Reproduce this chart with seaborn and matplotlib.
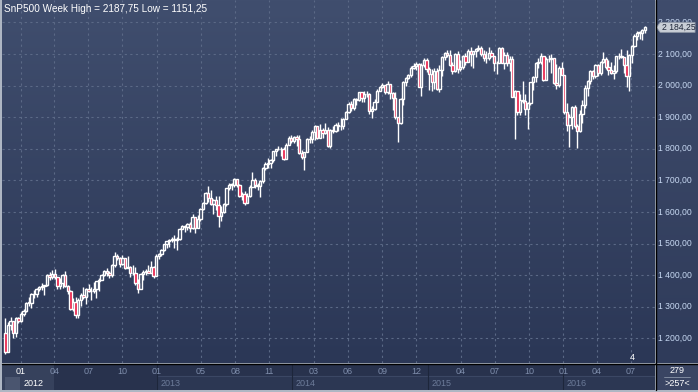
import numpy as np
import pandas as pd
import seaborn as sns
import matplotlib.pyplot as plt
from matplotlib.colors import LinearSegmentedColormap
from matplotlib.patches import Polygon, Rectangle

# weekly bars of the SnP500 future, first bar = week of 2011-11-21
start = "2011-11-21"
first_open = 1216

close_2011 = [1158, 1243, 1254, 1218, 1263, 1255]
high_2011 = [1265, 1253, 1266, 1255, 1266, 1268]
low_2011 = [1151.25, 1156, 1225, 1202, 1204, 1247]

close_2012 = [1276, 1287, 1313, 1313, 1341, 1339, 1357, 1362, 1366, 1368, 1400, 1393, 1404,
              1395, 1367, 1375, 1400, 1365, 1350, 1293, 1314, 1274, 1321, 1338, 1330, 1355,
              1349, 1351, 1357, 1380, 1385, 1401, 1413, 1406, 1401, 1433, 1461, 1455, 1434,
              1454, 1422, 1427, 1406, 1408, 1374, 1355, 1405, 1411, 1413, 1408, 1426, 1398, 1462]
high_2012 = [1283, 1294, 1316, 1330, 1343, 1352, 1360, 1366, 1375, 1370, 1404, 1409, 1416,
             1420, 1395, 1392, 1402, 1412, 1370, 1353, 1326, 1332, 1329, 1342, 1362, 1359,
             1373, 1362, 1378, 1382, 1392, 1404, 1415, 1423, 1412, 1435, 1472, 1466, 1458,
             1464, 1455, 1461, 1430, 1431, 1425, 1388, 1406, 1415, 1418, 1433, 1445, 1430, 1466]
low_2012 = [1252, 1271, 1284, 1302, 1296, 1326, 1331, 1351, 1354, 1337, 1366, 1384, 1389,
            1389, 1355, 1355, 1360, 1362, 1340, 1290, 1285, 1265, 1263, 1303, 1323, 1307,
            1345, 1322, 1344, 1327, 1351, 1384, 1398, 1397, 1392, 1395, 1427, 1447, 1427,
            1433, 1418, 1422, 1395, 1401, 1368, 1343, 1355, 1383, 1400, 1407, 1413, 1391, 1396]

close_2013 = [1467, 1480, 1497, 1507, 1512, 1514, 1510, 1514, 1546, 1555, 1552, 1563, 1548,
              1583, 1550, 1577, 1608, 1627, 1661, 1645, 1625, 1638, 1621, 1588, 1601, 1626,
              1675, 1686, 1686, 1703, 1684, 1650, 1656, 1628, 1650, 1680, 1702, 1684, 1683,
              1697, 1738, 1753, 1756, 1764, 1792, 1798, 1799, 1800, 1768, 1812, 1835, 1824]
high_2013 = [1470, 1482, 1500, 1509, 1513, 1520, 1527, 1522, 1550, 1560, 1558, 1565, 1568,
             1593, 1585, 1590, 1614, 1630, 1663, 1683, 1668, 1640, 1649, 1651, 1619, 1629,
             1677, 1692, 1693, 1706, 1705, 1690, 1662, 1666, 1659, 1685, 1726, 1706, 1693,
             1701, 1743, 1757, 1770, 1767, 1793, 1800, 1808, 1806, 1807, 1817, 1839, 1845]
low_2013 = [1450, 1460, 1477, 1487, 1490, 1505, 1487, 1481, 1510, 1546, 1535, 1543, 1535,
            1545, 1534, 1550, 1570, 1607, 1624, 1630, 1623, 1593, 1605, 1553, 1570, 1596,
            1620, 1668, 1671, 1678, 1680, 1648, 1637, 1623, 1627, 1648, 1683, 1675, 1670,
            1646, 1692, 1733, 1738, 1738, 1757, 1778, 1795, 1777, 1765, 1766, 1812, 1819]

close_2014 = [1836, 1832, 1785, 1775, 1790, 1832, 1830, 1853, 1871, 1834, 1860, 1851, 1858,
              1808, 1858, 1856, 1874, 1872, 1871, 1894, 1917, 1943, 1929, 1956, 1954, 1979,
              1961, 1972, 1972, 1919, 1925, 1949, 1982, 1997, 2001, 1979, 2004, 1976, 1962,
              1900, 1882, 1958, 2012, 2025, 2033, 2057, 2061, 2069, 1996, 2064, 2081, 2052]
high_2014 = [1840, 1844, 1843, 1795, 1790, 1833, 1840, 1858, 1876, 1871, 1877, 1867, 1882,
             1868, 1861, 1872, 1882, 1886, 1897, 1896, 1919, 1947, 1951, 1960, 1961, 1981,
             1977, 1982, 1984, 1977, 1936, 1957, 1990, 2000, 2007, 2002, 2013, 2004, 1981,
             1979, 1901, 1961, 2015, 2027, 2038, 2062, 2070, 2076, 2071, 2071, 2088, 2086]
low_2014 = [1817, 1808, 1783, 1767, 1733, 1789, 1818, 1818, 1828, 1832, 1834, 1834, 1848,
            1806, 1803, 1850, 1852, 1856, 1859, 1864, 1895, 1913, 1921, 1924, 1937, 1950,
            1948, 1948, 1964, 1911, 1898, 1922, 1947, 1984, 1992, 1973, 1973, 1958, 1924,
            1895, 1820, 1877, 1940, 2000, 2022, 2027, 2053, 2049, 1994, 1966, 2060, 2042]

close_2015 = [2038, 2012, 2046, 1988, 2048, 2091, 2103, 2097, 2064, 2046, 2101, 2054, 2060,
              2095, 2074, 2111, 2101, 2109, 2116, 2119, 2100, 2086, 2087, 2102, 2094, 2070,
              2070, 2120, 2073, 2097, 2070, 2084, 1965, 1983, 1916, 1955, 1952, 1925, 1944,
              2010, 2028, 2070, 2074, 2093, 2018, 2083, 2084, 2086, 2007, 2001, 2056, 2035]
high_2015 = [2059, 2052, 2057, 2055, 2064, 2094, 2106, 2114, 2113, 2076, 2104, 2111, 2082,
             2098, 2102, 2115, 2121, 2111, 2119, 2129, 2124, 2113, 2110, 2121, 2114, 2088,
             2078, 2123, 2122, 2106, 2107, 2095, 2095, 1985, 1978, 1974, 2013, 1974, 1949,
             2012, 2031, 2074, 2087, 2103, 2092, 2091, 2096, 2101, 2087, 2069, 2061, 2075]
low_2015 = [1985, 1984, 1988, 1986, 1980, 2031, 2080, 2092, 2061, 2036, 2044, 2040, 2045,
            2052, 2064, 2075, 2062, 2057, 2090, 2110, 2095, 2078, 2072, 2080, 2090, 2047,
            2038, 2070, 2071, 2052, 2062, 2045, 1964, 1831, 1907, 1908, 1945, 1908, 1864,
            1940, 1985, 2012, 2055, 2068, 2016, 2018, 2074, 2040, 2005, 1988, 1997, 2033]

close_2016 = [1916, 1874, 1899, 1932, 1872, 1857, 1909, 1940, 1993, 2015, 2045, 2030, 2066,
              2041, 2074, 2084, 2058, 2050, 2040, 2046, 2093, 2094, 2090, 2065, 2031, 2096,
              2124, 2156, 2168, 2167, 2177, 2184.25]
high_2016 = [2034, 1945, 1910, 1934, 1939, 1878, 1922, 1955, 2002, 2018, 2049, 2049, 2067,
             2069, 2077, 2105, 2092, 2080, 2075, 2064, 2095, 2103, 2116, 2092, 2112, 2100,
             2127, 2162, 2172, 2172, 2179, 2187.75]
low_2016 = [1911, 1856, 1804, 1862, 1866, 1802, 1854, 1883, 1928, 1967, 2006, 2020, 2025,
            2030, 2032, 2072, 2051, 2033, 2037, 2022, 2040, 2083, 2088, 2040, 1995, 1984,
            2072, 2122, 2145, 2148, 2145, 2166]

price_levels = [1200, 1300, 1400, 1500, 1600, 1700, 1800, 1900, 2000, 2100, 2200]
month_ticks = ["2012-01", "2012-04", "2012-07", "2012-10", "2013-01", "2013-05", "2013-08",
               "2013-11", "2014-03", "2014-06", "2014-09", "2014-12", "2015-04", "2015-07",
               "2015-10", "2016-01", "2016-04", "2016-07"]
years = ["2012", "2013", "2014", "2015", "2016"]

close = np.array(close_2011 + close_2012 + close_2013 + close_2014 + close_2015 + close_2016, float)
high = np.array(high_2011 + high_2012 + high_2013 + high_2014 + high_2015 + high_2016, float)
low = np.array(low_2011 + low_2012 + low_2013 + low_2014 + low_2015 + low_2016, float)
opn = np.concatenate([[first_open], close[:-1]])
n = len(close)
idx = np.arange(n)


def week_pos(d):
    return (pd.Timestamp(d) - pd.Timestamp(start)).days / 7


def price_label(v):
    cents = int(round(v * 100)) % 100
    return f"{int(v) // 1000} {int(v) % 1000:03d},{cents:02d}"


sns.set_theme(style="dark")
plt.rcParams["font.family"] = ["Liberation Sans", "DejaVu Sans"]

W, H = 698, 392


def rect(x0, y0, x1, y1):
    return [x0 / W, 1 - y1 / H, (x1 - x0) / W, (y1 - y0) / H]


fig = plt.figure(figsize=(W / 100, H / 100), dpi=100, facecolor="#aeb6c3")
ax = fig.add_axes(rect(2, 0, 655, 363), zorder=2)
axb = fig.add_axes(rect(2, 364, 655, 390), sharex=ax, zorder=1)
axr = fig.add_axes(rect(656, 0, 698, 363), zorder=1)
axc = fig.add_axes(rect(656, 364, 698, 390), zorder=1)

ymin, ymax = 1121.8, 2270.9
xmin, xmax = -1.3, 249.9

# background gradient
grad = LinearSegmentedColormap.from_list("bg", ["#404e6e", "#2b3756"])
ax.imshow(np.linspace(0, 1, 256).reshape(-1, 1), cmap=grad, aspect="auto",
          extent=(0, 1, 0, 1), transform=ax.transAxes, zorder=0)
grad_r = LinearSegmentedColormap.from_list("bgr", ["#3f4c6c", "#2f3b5a"])
axr.imshow(np.linspace(0, 1, 256).reshape(-1, 1), cmap=grad_r, aspect="auto",
           extent=(0, 1, 0, 1), transform=axr.transAxes, zorder=0)

# candles
up = close >= opn
body_lo = np.minimum(opn, close)
body_hi = np.maximum(opn, close)
ax.vlines(idx, np.minimum(low, body_lo), np.maximum(high, body_hi), color="white", lw=1.0, zorder=3)
h = np.maximum(body_hi - body_lo, 1.5)
ax.bar(idx[up], h[up], bottom=body_lo[up], width=0.9, color="#36435f",
       edgecolor="white", linewidth=1.0, zorder=4)
ax.bar(idx[~up], h[~up], bottom=body_lo[~up], width=0.9, color="#e8123e",
       edgecolor="white", linewidth=1.0, zorder=4)

ax.set_xlim(xmin, xmax)
ax.set_ylim(ymin, ymax)
mpos = [week_pos(m + "-01") for m in month_ticks]
ax.set_xticks(mpos)
ax.set_yticks(price_levels)
ax.tick_params(labelbottom=False, labelleft=False, length=0)
ax.grid(True, color="#5b6986", ls=(0, (2, 3)), lw=0.8)
sns.despine(ax=ax, left=True, bottom=True, right=True, top=True)
ax.set_facecolor("#34415f")

# title
fig.text(4 / W, 1 - 9 / H, "SnP500 Week High = 2187,75 Low = 1151,25", color="white",
         fontsize=7.2, va="center", ha="left")
fig.text(632 / W, 1 - 357 / H, "4", color="white", fontsize=6.5, va="center", ha="center")

# right price axis
axr.set_xlim(0, 1)
axr.set_ylim(ymin, ymax)
axr.axis("off")
for v in price_levels:
    axr.text(0.04, v, price_label(v), color="#c7d8f2", fontsize=6.2, va="center", ha="left", zorder=2)
last = close[-1]
dy = 5.0 / 0.316
tag = Polygon([(0.01, last), (0.1, last + dy), (0.93, last + dy), (0.93, last - dy),
               (0.1, last - dy)], closed=True, fc="#c9ced6", ec="#8d96a6", lw=0.6, zorder=5)
axr.add_patch(tag)
axr.text(0.15, last, price_label(last), color="#1e2638", fontsize=6.2, va="center",
         ha="left", zorder=6)

# bottom time axis
axb.set_ylim(0, 1)
axb.set_facecolor("#28324d")
axb.tick_params(labelbottom=False, labelleft=False, length=0)
axb.grid(False)
sns.despine(ax=axb, left=True, bottom=True, right=True, top=True)
ppx = (xmax - xmin) / 653
axb.add_patch(Rectangle((xmin, 0), mpos[1] - xmin, 1, fc="#36415c", ec="none", zorder=0))
axb.add_patch(Rectangle((xmin + 3 * ppx, 0.0), 15 * ppx, 0.5, fc="#4a556f", ec="none", zorder=1))
ystarts = [week_pos(y + "-01-01") for y in years[1:]] + [xmax]
for a, b in zip(ystarts[:-1], ystarts[1:]):
    axb.add_patch(Rectangle((a, 0.0), b - a, 0.55, fc="#2c3753", ec="#3b4764", lw=0.8, zorder=1))
    axb.axvline(a, color="#1d263b", lw=0.8, zorder=1)
for m, p in zip(month_ticks, mpos):
    col = "white" if m.startswith("2012-01") else "#7e8dab"
    axb.text(p, 0.7, m[-2:], color=col, fontsize=6.5, ha="center", va="center", zorder=3)
axb.text(mpos[0] + 1.0, 0.24, years[0], color="white", fontsize=6.5, ha="left", va="center", zorder=3)
for y, p in zip(years[1:], ystarts[:-1]):
    axb.text(p + 1.5, 0.24, y, color="#6c7b99", fontsize=6.5, ha="left", va="center", zorder=3)

# corner box
axc.set_facecolor("#3a4563")
axc.set_xlim(0, 1)
axc.set_ylim(0, 1)
axc.tick_params(labelbottom=False, labelleft=False, length=0)
sns.despine(ax=axc, left=True, bottom=True, right=True, top=True)
axc.text(0.5, 0.74, "279", color="white", fontsize=6.5, ha="center", va="center")
axc.plot([0.2, 0.8], [0.5, 0.5], color="#8a94a8", lw=0.6)
axc.text(0.5, 0.24, ">257<", color="white", fontsize=6.5, ha="center", va="center")

# separator lines
fig.add_artist(plt.Line2D([655.5 / W, 655.5 / W], [1, 2 / H], color="black", lw=1.0, zorder=10))
fig.add_artist(plt.Line2D([2 / W, 1], [1 - 363.5 / H, 1 - 363.5 / H], color="black", lw=1.0, zorder=10))

fig.savefig("out.png", dpi=100, facecolor=fig.get_facecolor())
